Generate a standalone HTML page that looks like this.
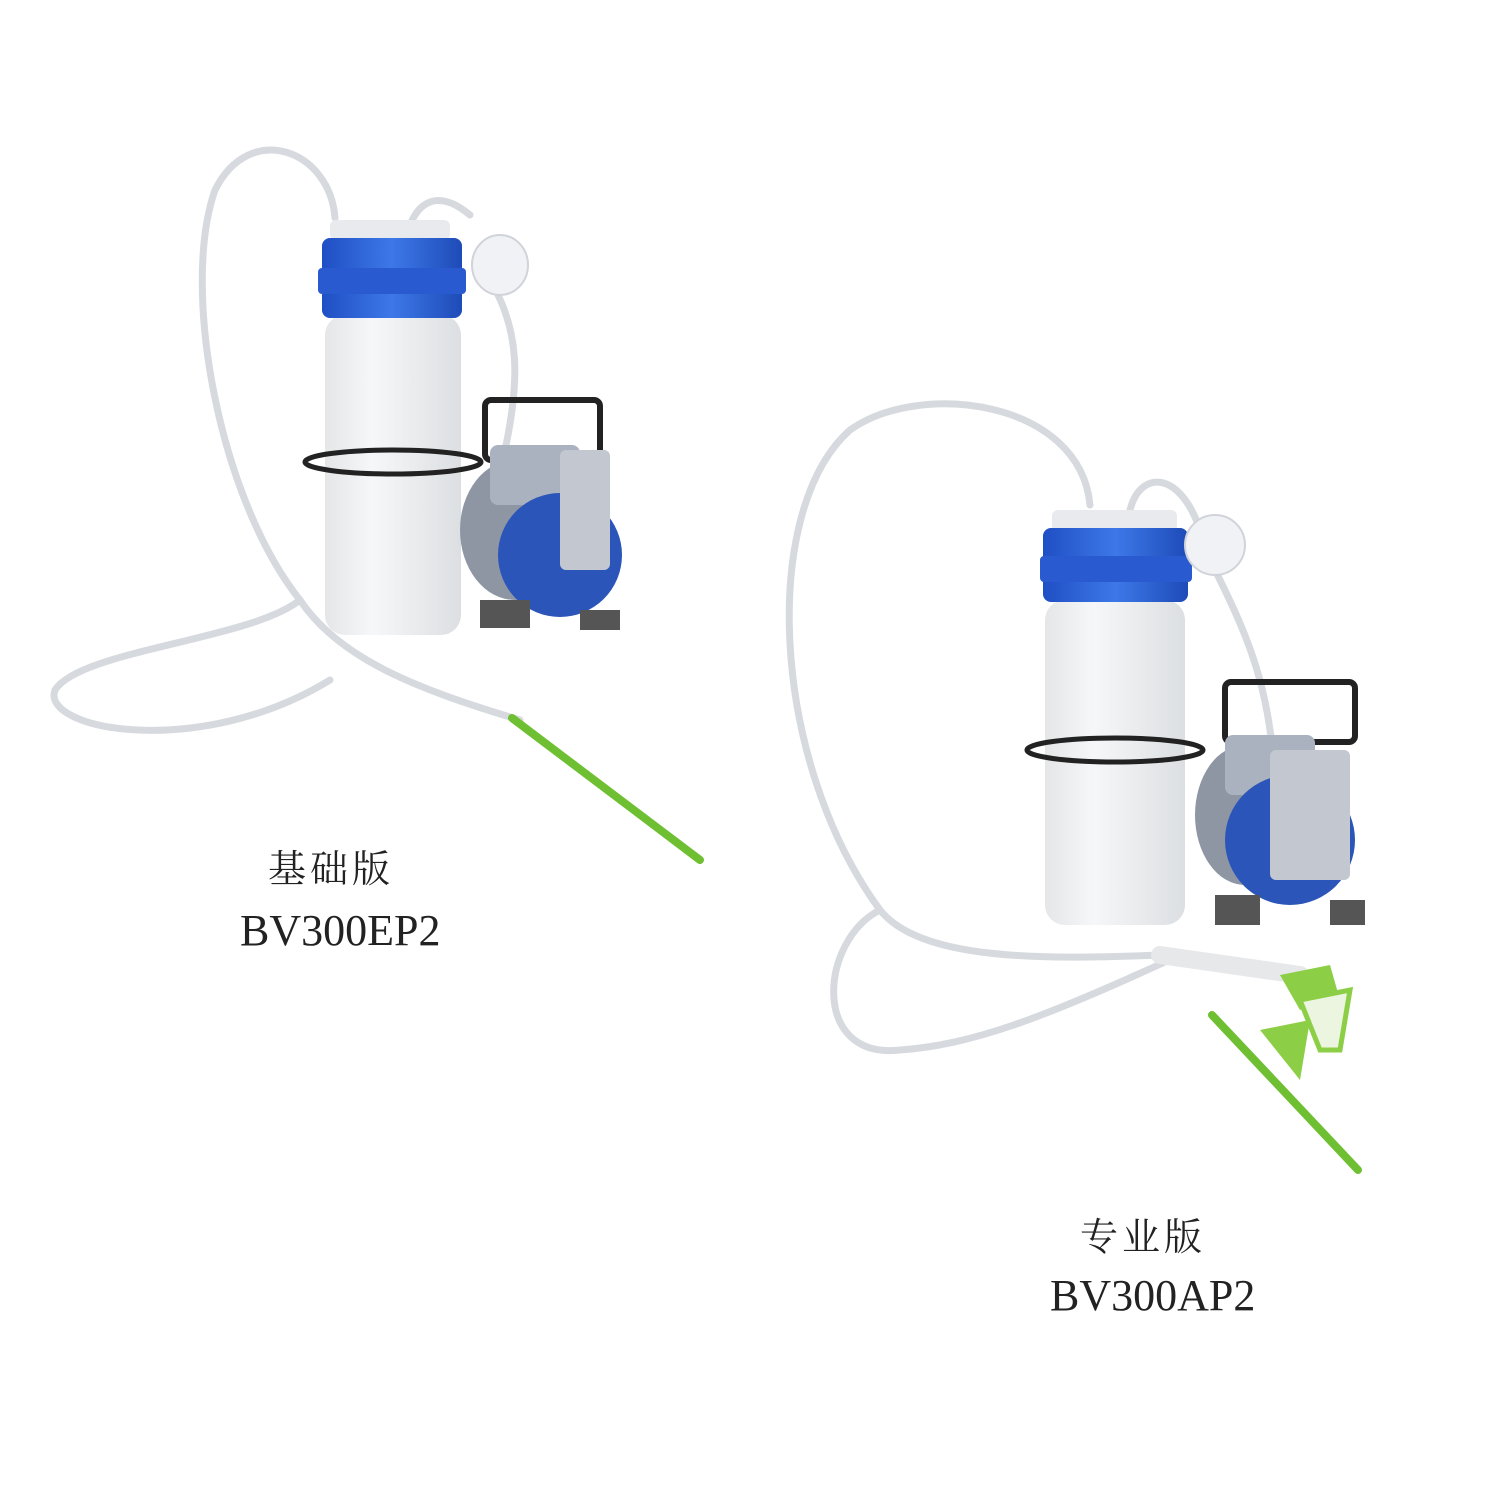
<!DOCTYPE html>
<html><head><meta charset="utf-8"><style>
html,body{margin:0;padding:0;background:#fff;}
.wrap{position:relative;width:1500px;height:1500px;overflow:hidden;background:#fff;}
svg{position:absolute;left:0;top:0;}
.t{position:absolute;font-family:"Liberation Serif","Noto Serif CJK SC",serif;color:#222;white-space:nowrap;}
</style></head><body><div class="wrap">
<svg width="1500" height="1500" viewBox="0 0 1500 1500">
<defs>
<linearGradient id="bot" x1="0" x2="1"><stop offset="0" stop-color="#e4e6e8"/><stop offset="0.35" stop-color="#f6f7f8"/><stop offset="1" stop-color="#dcdfe2"/></linearGradient>
<linearGradient id="cap" x1="0" x2="1"><stop offset="0" stop-color="#1f4fc4"/><stop offset="0.5" stop-color="#3d78e8"/><stop offset="1" stop-color="#1e4bb8"/></linearGradient>
</defs>
<g fill="none" stroke="#d6dadf" stroke-width="7" stroke-linecap="round">
<!-- left tubes -->
<path d="M335 218 C330 150 250 120 215 190 C180 290 220 500 300 600 C340 660 420 690 520 720"/>
<path d="M300 600 C250 640 80 650 55 690 C40 730 200 760 330 680"/>
<path d="M410 225 C420 200 440 190 470 215"/>
<path d="M490 280 C520 330 520 380 505 450"/>
<!-- right tubes -->
<path d="M1090 505 C1080 400 920 380 850 430 C760 510 770 760 880 910 C920 960 1040 960 1160 955"/>
<path d="M880 910 C820 940 810 1060 900 1050 C970 1045 1040 1020 1180 955"/>
<path d="M1130 510 C1140 470 1180 470 1200 530"/>
<path d="M1215 570 C1250 640 1270 690 1275 780"/>
</g>
<!-- left bottle -->
<rect x="325" y="315" width="136" height="320" rx="20" fill="url(#bot)"/>
<rect x="330" y="220" width="120" height="20" rx="6" fill="#e8eaee"/>
<rect x="322" y="238" width="140" height="80" rx="8" fill="url(#cap)"/>
<rect x="318" y="268" width="148" height="26" rx="4" fill="#2a5ad0"/>
<ellipse cx="393" cy="462" rx="88" ry="12" fill="none" stroke="#222" stroke-width="5"/>
<!-- left filter -->
<ellipse cx="500" cy="265" rx="28" ry="30" fill="#f0f2f5" stroke="#d0d4da" stroke-width="2"/>
<!-- left pump -->
<rect x="485" y="400" width="115" height="60" rx="6" fill="none" stroke="#222" stroke-width="6"/>
<ellipse cx="515" cy="530" rx="55" ry="70" fill="#8e96a4"/>
<rect x="490" y="445" width="90" height="60" rx="8" fill="#aab2bf"/>
<circle cx="560" cy="555" r="62" fill="#2b55b8"/>
<rect x="560" y="450" width="50" height="120" rx="6" fill="#c3c8d0"/>
<rect x="480" y="600" width="50" height="28" fill="#555"/>
<rect x="580" y="610" width="40" height="20" fill="#555"/>
<!-- left pipette -->
<line x1="512" y1="718" x2="700" y2="860" stroke="#6fbf32" stroke-width="8" stroke-linecap="round"/>
<!-- right bottle -->
<rect x="1045" y="600" width="140" height="325" rx="20" fill="url(#bot)"/>
<rect x="1052" y="510" width="125" height="22" rx="6" fill="#e8eaee"/>
<rect x="1043" y="528" width="145" height="74" rx="8" fill="url(#cap)"/>
<rect x="1040" y="556" width="152" height="26" rx="4" fill="#2a5ad0"/>
<ellipse cx="1115" cy="750" rx="88" ry="12" fill="none" stroke="#222" stroke-width="5"/>
<ellipse cx="1215" cy="545" rx="30" ry="30" fill="#f0f2f5" stroke="#d0d4da" stroke-width="2"/>
<!-- right pump -->
<rect x="1225" y="682" width="130" height="60" rx="6" fill="none" stroke="#222" stroke-width="6"/>
<ellipse cx="1245" cy="815" rx="50" ry="70" fill="#8e96a4"/>
<rect x="1225" y="735" width="90" height="60" rx="8" fill="#aab2bf"/>
<circle cx="1290" cy="840" r="65" fill="#2b55b8"/>
<rect x="1270" y="750" width="80" height="130" rx="6" fill="#c3c8d0"/>
<rect x="1215" y="895" width="45" height="30" fill="#555"/>
<rect x="1330" y="900" width="35" height="25" fill="#555"/>
<!-- right handle + pipette -->
<line x1="1160" y1="955" x2="1300" y2="975" stroke="#e6e8ea" stroke-width="18" stroke-linecap="round"/>
<path d="M1280 975 L1330 965 L1340 1000 L1300 1010 Z" fill="#8ccf46"/>
<path d="M1300 1000 L1350 990 L1340 1050 L1320 1050 Z" fill="#ecf5df" stroke="#8ccf46" stroke-width="5"/>
<path d="M1260 1030 L1310 1020 L1300 1080 Z" fill="#8ccf46"/>
<line x1="1212" y1="1015" x2="1358" y2="1170" stroke="#6fbf32" stroke-width="8" stroke-linecap="round"/>
</svg>
<div class="t" style="left:268px;top:838px;font-size:38px;letter-spacing:4px;">基础版</div>
<div class="t" style="left:240px;top:905px;font-size:44px;">BV300EP2</div>
<div class="t" style="left:1080px;top:1206px;font-size:38px;letter-spacing:4px;">专业版</div>
<div class="t" style="left:1050px;top:1270px;font-size:44px;">BV300AP2</div>
</div></body></html>
